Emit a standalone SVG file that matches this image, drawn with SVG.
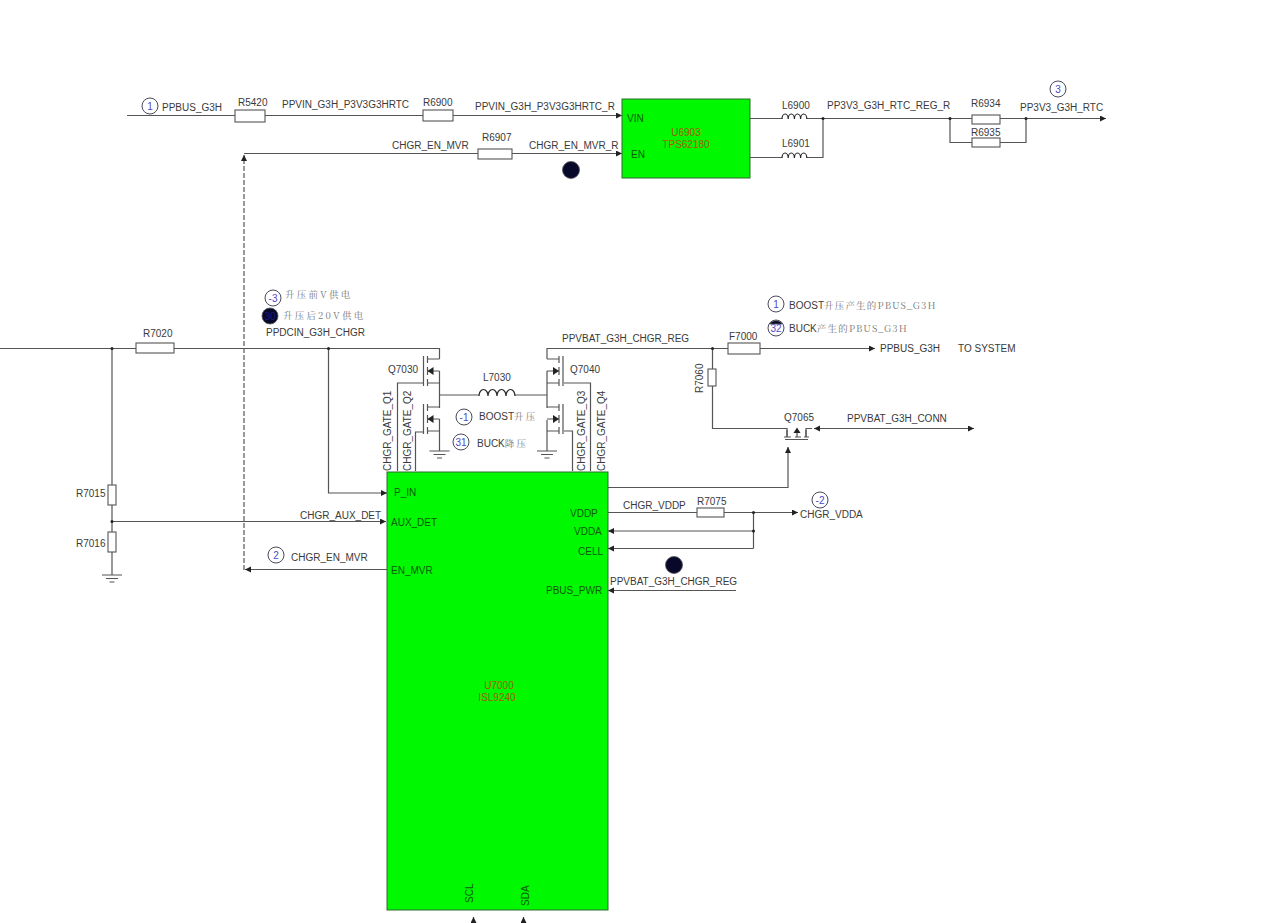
<svg xmlns="http://www.w3.org/2000/svg" xmlns:xlink="http://www.w3.org/1999/xlink" width="1280" height="923" viewBox="0 0 1280 923">
<style>
text{font-family:"Liberation Sans","Noto Sans CJK SC",sans-serif;font-size:10px;fill:#3a3a3a}
.w{fill:none;stroke:#555;stroke-width:1.2}
.r{fill:#fff;stroke:#555;stroke-width:1.1}
.chip{fill:#00f800;stroke:#2e6b2e;stroke-width:1}
.pin{fill:#0a5a0a}
.ref{fill:#a85a00;text-anchor:middle}
.no{fill:#fff;stroke:#4a4a5a;stroke-width:1}
.nt{fill:#4a4ac8;text-anchor:middle;font-size:10px}
.dk{fill:#08082a;stroke:#555;stroke-width:.8}
.dkt{fill:#1a1a80;text-anchor:middle;font-size:10px}
.dot{fill:#222}
.coil{fill:none;stroke:#222;stroke-width:1.2}
.cn{font-family:"Noto Serif CJK SC","Noto Sans CJK SC",serif;fill:#777;font-size:9.5px;letter-spacing:2.2px}
.cn2{font-family:"Noto Serif CJK SC","Noto Sans CJK SC",serif;fill:#777;font-size:9.5px;letter-spacing:1.2px}
.hd{fill:#222}
</style>
<defs>
<marker id="a" markerWidth="8" markerHeight="8" refX="6" refY="3" orient="auto-start-reverse" markerUnits="userSpaceOnUse"><path d="M0 0L6 3L0 6z" fill="#222"/></marker>
<g id="fet"><path class="w" d="M-16-15V15M-12-15V-8M-12-4V4M-12 8V15M-12-12H0M-12 0H0M-12 12H0"/><path class="hd" d="M-12 0L-6-4V4z"/></g>
<g id="gnd"><path class="w" d="M-10 0H10M-6 3.500H6M-2.500 7H2.500"/></g>
<path id="c4" class="coil" d="M0 0a3.100 5 0 0 1 6.200 0a3.100 5 0 0 1 6.200 0a3.100 5 0 0 1 6.200 0a3.100 5 0 0 1 6.200 0"/>
</defs>
<rect width="1280" height="923" fill="#fff"/>
<g id="connectors">
<path class="w" d="M127 115.500H622" marker-end="url(#a)"/>
<path class="w" d="M622 153.500H244" marker-start="url(#a)"/>
<path class="w" stroke-dasharray="5 2" d="M244 570V155" marker-end="url(#a)"/>
<path class="w" d="M750 118.500H782M807 118.500H950M750 157.500H782M807 157.500H823V118.500M950 118.500V142.500H1026V118.500"/>
<path class="w" d="M950 118.500H1106" marker-end="url(#a)"/>
<path class="w" d="M0 348.500H439.500V359M439.500 371V408M439.500 419V451M439.500 395H479M515 395H547M547 359V348.500H712M547 371V408M547 420V451"/>
<path class="w" d="M712 348.500H875" marker-end="url(#a)"/>
<path class="w" d="M112 348.500V575M112 521.500H386" marker-end="url(#a)"/>
<path class="w" d="M328.500 348.500V493H387" marker-end="url(#a)"/>
<path class="w" d="M397.500 471V383H423M415.500 471V432H423M590.500 471V383H564M572.500 471V431H564"/>
<path class="w" d="M712.500 348.500V428.500H787V437M806 437V428.500H812"/>
<path class="w" d="M814 428.500H974" marker-start="url(#a)" marker-end="url(#a)"/>
<path class="w" d="M608 487.500H788V447" marker-end="url(#a)"/>
<path class="w" d="M608 512.500H798" marker-end="url(#a)"/>
<path class="w" d="M753.500 512.500V548.500"/>
<path class="w" d="M753.500 531H608" marker-end="url(#a)"/>
<path class="w" d="M753.500 548.500H608" marker-end="url(#a)"/>
<path class="w" d="M736 590.500H608" marker-end="url(#a)"/>
<path class="w" d="M387 569.500H245" marker-end="url(#a)"/>
<path class="w" d="M473.500 923V917" marker-end="url(#a)"/>
<path class="w" d="M523.500 923V917" marker-end="url(#a)"/>
<g class="dot"><circle cx="823" cy="118.500" r="1.500"/><circle cx="950" cy="118.500" r="1.500"/><circle cx="1026" cy="118.500" r="1.500"/><circle cx="112" cy="348.500" r="1.500"/><circle cx="328.500" cy="348.500" r="1.500"/><circle cx="712.500" cy="348.500" r="1.500"/><circle cx="112" cy="521.500" r="1.500"/><circle cx="753.500" cy="512.500" r="1.500"/><circle cx="753.500" cy="531" r="1.500"/></g>
</g>
<g id="U6903"><rect class="chip" x="622" y="99" width="128" height="79"/><text class="pin" x="627" y="122">VIN</text><text class="pin" x="631" y="158">EN</text><text class="ref" x="686" y="136">U6903</text><text class="ref" x="686" y="148">TPS62180</text></g>
<g id="U7000"><rect class="chip" x="387" y="472" width="221" height="438"/><text class="pin" x="394" y="496">P_IN</text><text class="pin" x="391" y="526">AUX_DET</text><text class="pin" x="391" y="574">EN_MVR</text><text class="pin" x="570" y="517">VDDP</text><text class="pin" x="574" y="535">VDDA</text><text class="pin" x="578" y="555">CELL</text><text class="pin" x="546" y="594">PBUS_PWR</text><text class="ref" x="499" y="689">U7000</text><text class="ref" x="497" y="701">ISL9240</text><text class="pin" transform="translate(473 903) rotate(-90)">SCL</text><text class="pin" transform="translate(529 906) rotate(-90)">SDA</text></g>
<g id="R5420"><rect class="r" x="235" y="110" width="30" height="12"/><text x="238" y="106">R5420</text></g>
<g id="R6900"><rect class="r" x="423" y="110" width="30" height="11"/><text x="423" y="106">R6900</text></g>
<g id="R6907"><rect class="r" x="478" y="149" width="34" height="10"/><text x="482" y="141">R6907</text></g>
<g id="L6900"><use href="#c4" x="782" y="119"/><text x="782" y="109">L6900</text></g>
<g id="L6901"><use href="#c4" x="782" y="158"/><text x="782" y="147">L6901</text></g>
<g id="R6934"><rect class="r" x="972" y="115" width="28" height="9"/><text x="971" y="107">R6934</text></g>
<g id="R6935"><rect class="r" x="972" y="138" width="28" height="9"/><text x="971" y="136">R6935</text></g>
<g id="R7020"><rect class="r" x="136" y="343" width="38" height="10"/><text x="143" y="337">R7020</text></g>
<g id="R7015"><rect class="r" x="108" y="485" width="8" height="20"/><text x="76" y="497">R7015</text></g>
<g id="R7016"><rect class="r" x="108" y="532" width="8" height="20"/><text x="76" y="547">R7016</text></g>
<g id="GND1"><use href="#gnd" x="112" y="575"/></g>
<g id="Q7030"><use href="#fet" x="439.500" y="371"/><use href="#fet" x="439.500" y="419"/><use href="#gnd" x="439.500" y="451"/><text x="388" y="373">Q7030</text></g>
<g id="Q7040"><use href="#fet" transform="translate(547 371) scale(-1 1)"/><use href="#fet" transform="translate(547 419) scale(-1 1)"/><use href="#gnd" x="547" y="451"/><text x="570" y="373">Q7040</text></g>
<g id="L7030"><path class="coil" d="M479 396a4.500 6.500 0 0 1 9 0a4.500 6.500 0 0 1 9 0a4.500 6.500 0 0 1 9 0a4.500 6.500 0 0 1 9 0"/><text x="483" y="381">L7030</text></g>
<g id="F7000"><rect class="r" x="728" y="343" width="32" height="11"/><text x="729" y="340">F7000</text></g>
<g id="R7060"><rect class="r" x="708" y="369" width="8" height="17"/><text transform="translate(703 393) rotate(-90)">R7060</text></g>
<g id="Q7065"><path class="w" d="M784 437H791M795 437H801M804 437H809M785 439.500H808M787 430V437M806 430V437"/><path class="w" d="M797 437V431"/><path class="hd" d="M797 427.500L793.500 433H800.500z"/><text x="784" y="421">Q7065</text></g>
<g id="R7075"><rect class="r" x="697" y="508" width="27" height="9"/><text x="697" y="505">R7075</text></g>
<g id="labels">
<text x="162" y="111">PPBUS_G3H</text>
<text x="282" y="108">PPVIN_G3H_P3V3G3HRTC</text>
<text x="475" y="110">PPVIN_G3H_P3V3G3HRTC_R</text>
<text x="392" y="149">CHGR_EN_MVR</text>
<text x="529" y="149">CHGR_EN_MVR_R</text>
<text x="827" y="109">PP3V3_G3H_RTC_REG_R</text>
<text x="1020" y="111">PP3V3_G3H_RTC</text>
<text x="266" y="336">PPDCIN_G3H_CHGR</text>
<text x="562" y="342">PPVBAT_G3H_CHGR_REG</text>
<text x="880" y="352">PPBUS_G3H</text>
<text x="958" y="352">TO SYSTEM</text>
<text x="847" y="422">PPVBAT_G3H_CONN</text>
<text x="623" y="509">CHGR_VDDP</text>
<text x="800" y="518">CHGR_VDDA</text>
<text x="610" y="585">PPVBAT_G3H_CHGR_REG</text>
<text x="300" y="519">CHGR_AUX_DET</text>
<text x="291" y="561">CHGR_EN_MVR</text>
<text transform="translate(391 471) rotate(-90)">CHGR_GATE_Q1</text>
<text transform="translate(411 471) rotate(-90)">CHGR_GATE_Q2</text>
<text transform="translate(585 471) rotate(-90)">CHGR_GATE_Q3</text>
<text transform="translate(605 471) rotate(-90)">CHGR_GATE_Q4</text>
<text class="cn" x="285" y="298">升压前V供电</text>
<text class="cn" x="283" y="319">升压后20V供电</text>
<text x="479" y="420">BOOST<tspan class="cn">升压</tspan></text>
<text x="477" y="447">BUCK<tspan class="cn">降压</tspan></text>
<text x="789" y="309">BOOST<tspan class="cn2">升压产生的PBUS_G3H</tspan></text>
<text x="789" y="332">BUCK<tspan class="cn2">产生的PBUS_G3H</tspan></text>
</g>
<g id="badges">
<circle class="no" cx="150" cy="106" r="8"/><text class="nt" x="150" y="110">1</text>
<circle class="no" cx="1058" cy="89" r="8"/><text class="nt" x="1058" y="93">3</text>
<circle class="no" cx="273" cy="298" r="8"/><text class="nt" x="273" y="302">-3</text>
<circle class="no" cx="464" cy="417" r="8"/><text class="nt" x="464" y="421">-1</text>
<circle class="no" cx="461" cy="442" r="8"/><text class="nt" x="461" y="446">31</text>
<circle class="no" cx="776" cy="304" r="8"/><text class="nt" x="776" y="308">1</text>
<circle class="no" cx="776" cy="328" r="8"/><path class="dk" d="M769.500 324a8 8 0 0 1 13 0z"/><text class="nt" x="776" y="332">32</text>
<circle class="no" cx="820" cy="500" r="8"/><text class="nt" x="820" y="504">-2</text>
<circle class="no" cx="276" cy="555" r="8"/><text class="nt" x="276" y="559">2</text>
<circle class="dk" cx="270" cy="316" r="8"/><text class="dkt" x="270" y="320">30</text>
<circle class="dk" cx="571" cy="170" r="8.500"/>
<circle class="dk" cx="674" cy="565" r="8.500"/>
</g>
</svg>
